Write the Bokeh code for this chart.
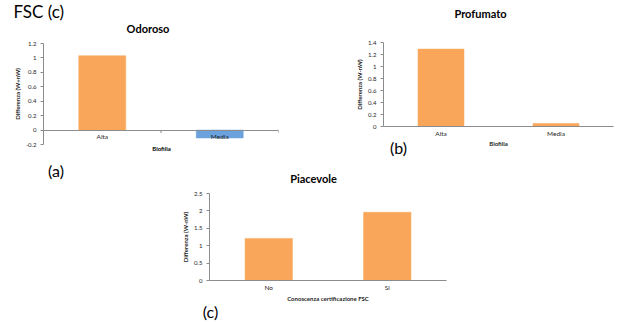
import math
from bokeh.plotting import figure
from bokeh.models import Label, FactorRange, Range1d, FixedTicker, CustomJSTickFormatter
from bokeh.layouts import column, row
from bokeh.embed import file_html
from bokeh.resources import INLINE

FONT = "Lato"
ORANGE = "#F9A65A"
BLUE = "#6BA2DD"
AXIS = "#8C8C8C"
TEXT = "#1E1E1E"

# ---- data ----
odoroso_cats = ["Alta", "Media"]
odoroso_vals = [1.03, -0.11]
odoroso_colors = [ORANGE, BLUE]
odoroso_yticks = [-0.2, 0, 0.2, 0.4, 0.6, 0.8, 1, 1.2]

profumato_cats = ["Alta", "Media"]
profumato_vals = [1.29, 0.05]
profumato_colors = [ORANGE, ORANGE]
profumato_yticks = [0, 0.2, 0.4, 0.6, 0.8, 1, 1.2, 1.4]

piacevole_cats = ["No", "Si"]
piacevole_vals = [1.21, 1.96]
piacevole_colors = [ORANGE, ORANGE]
piacevole_yticks = [0, 0.5, 1, 1.5, 2, 2.5]


def make(cats, vals, colors, yticks, ylabel, xlabel, w, h, bl, br, bt, bb,
         zero_axis=False, lab_standoff=3, axlab_standoff=5):
    p = figure(width=w, height=h, x_range=FactorRange(*cats),
               y_range=Range1d(min(yticks), max(yticks)),
               output_backend="svg", toolbar_location=None,
               min_border_left=bl, min_border_right=br,
               min_border_top=bt, min_border_bottom=bb)
    p.title.visible = False
    p.outline_line_color = None
    p.background_fill_color = "white"
    p.border_fill_color = "white"
    p.xgrid.visible = False
    p.ygrid.visible = False

    p.vbar(x=cats, top=vals, bottom=0, width=0.4, fill_color=colors,
           line_color=colors, line_width=0.5)

    # category divider ticks (Excel style)
    bx = [[c, 0.5] for c in cats]
    p.ray(x=bx, y=[0] * len(bx), length=3, length_units="screen",
          angle=-math.pi / 2, line_color=AXIS, line_width=1)

    ya = p.yaxis[0]
    ya.ticker = FixedTicker(ticks=yticks)
    ya.formatter = CustomJSTickFormatter(code="return String(Math.round(tick*10)/10)")
    ya.major_tick_in = 0
    ya.major_tick_out = 3
    ya.minor_tick_line_color = None
    ya.axis_line_color = AXIS
    ya.major_tick_line_color = AXIS
    ya.major_label_text_font = FONT
    ya.major_label_text_font_size = "6px"
    ya.major_label_text_color = TEXT
    ya.major_label_standoff = 4
    ya.axis_label = ylabel
    ya.axis_label_text_font = FONT
    ya.axis_label_text_font_size = "6px"
    ya.axis_label_text_font_style = "bold"
    ya.axis_label_text_color = TEXT
    ya.axis_label_standoff = 2

    xa = p.xaxis[0]
    if zero_axis:
        xa.fixed_location = 0
    xa.major_tick_in = 0
    xa.major_tick_out = 0
    xa.major_tick_line_color = None
    xa.axis_line_color = AXIS
    xa.major_label_text_font = FONT
    xa.major_label_text_font_size = "6.5px"
    xa.major_label_text_color = TEXT
    xa.major_label_standoff = lab_standoff
    if xlabel:
        xa.axis_label = xlabel
        xa.axis_label_text_font = FONT
        xa.axis_label_text_font_size = "6px"
        xa.axis_label_text_font_style = "bold"
        xa.axis_label_text_color = TEXT
        xa.axis_label_standoff = axlab_standoff
    return p


def put(p, side, ref, text, cx, cy, size, bold=False, align="center", baseline="middle"):
    # ref = (left, bottom) of the label's panel box in canvas pixels; cx, cy canvas pixels
    left, bottom = ref
    p.add_layout(Label(x=cx - left, y=bottom - cy, x_units="screen", y_units="screen",
                       text=text, text_font=FONT, text_font_size=size,
                       text_font_style="bold" if bold else "normal",
                       text_color="black", text_align=align, text_baseline=baseline), side)


H11 = 13.2   # estimated box height of an 11px label
W16 = 17.5   # estimated box width of "(c)" at 16px

# ---- (a) Odoroso ----
pA = make(odoroso_cats, odoroso_vals, odoroso_colors, odoroso_yticks,
          "Differenza (W+nW)", None, 306, 160, 43, 28, 43, 16,
          zero_axis=True, lab_standoff=3)
put(pA, "above", (43, 43), "Odoroso", 147.5, 28, "11px", bold=True)
put(pA, "above", (43, 43 - H11), "FSC (c)", 13, 10.5, "17px", align="left", baseline="alphabetic")
put(pA, "right", (278, 144), "Biofilia", 161, 148, "6px", bold=True)

# ---- (b) Profumato ----
pB = make(profumato_cats, profumato_vals, profumato_colors, profumato_yticks,
          "Differenza (W-nW)", "Biofilia", 311, 160, 77, 4, 42, 34,
          lab_standoff=3, axlab_standoff=0)
put(pB, "above", (77, 42), "Profumato", 174, 13, "11px", bold=True)
put(pB, "above", (77, 42 - H11), "(b)", 92, 147, "16px")

# ---- (c) Piacevole ----
pC = make(piacevole_cats, piacevole_vals, piacevole_colors, piacevole_yticks,
          "Differenza (W-nW)", "Conoscenza certificazione FSC", 617, 162, 209, 171, 33, 42,
          lab_standoff=3, axlab_standoff=1)
put(pC, "above", (209, 33), "Piacevole", 313, 18, "11px", bold=True)
put(pC, "right", (446, 120), "(c)", 210, 151, "16px")
put(pC, "right", (446 + W16, 120), "(a)", 58, 10, "16px")

layout = column(row(column(pA), column(pB)), pC)

open("out.html", "w").write(file_html(layout, INLINE))
